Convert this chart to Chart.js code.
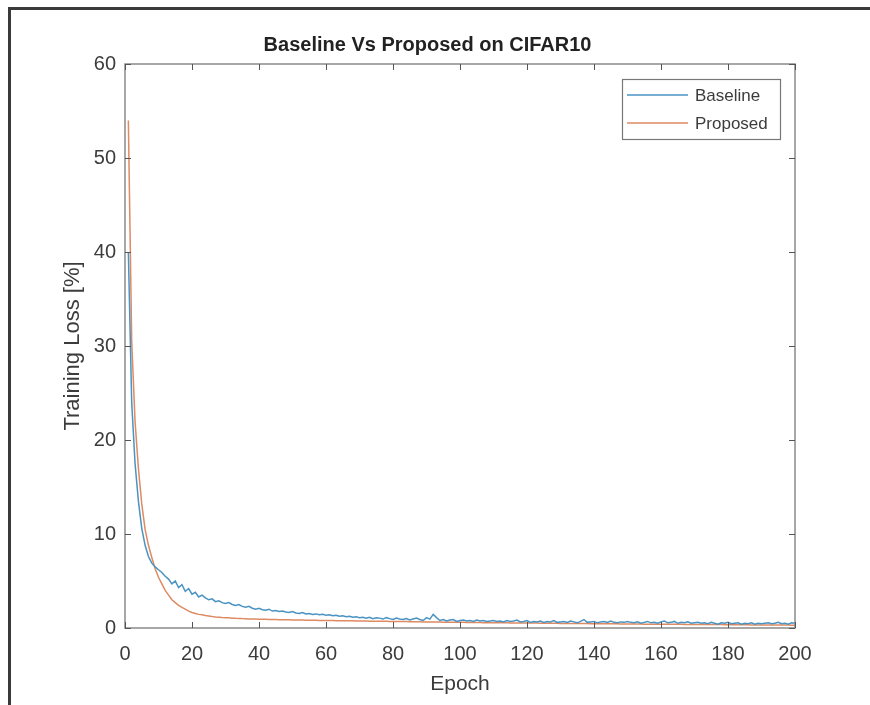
<!DOCTYPE html>
<html>
<head>
<meta charset="utf-8">
<script src="https://cdn.jsdelivr.net/npm/chart.js@4.4.1/dist/chart.umd.min.js"></script>
<style>
    html, body { margin: 0; padding: 0; background: #fff; }
    #wrap { position: relative; width: 870px; height: 705px; }
    #frame { position: absolute; left: 8px; top: 7px; right: 0; bottom: 0;
             border-top: 3px solid #3a3a3a; border-left: 3px solid #3a3a3a; pointer-events: none; }
    canvas { position: absolute; left: 0; top: 0; }
</style>
</head>
<body>
<div id="wrap">
    <canvas id="chart" width="870" height="705"></canvas>
    <div id="frame"></div>
</div>
<script>
// Data (epochs 1..200)
const xTicks = [0, 20, 40, 60, 80, 100, 120, 140, 160, 180, 200];
const yTicks = [0, 10, 20, 30, 40, 50, 60];

const baseline = [
    40.0, 24.0, 17.5, 13.5, 10.6, 8.8, 7.6, 6.9, 6.5, 6.2,
    5.9, 5.5, 5.2, 4.7, 5.0, 4.3, 4.6, 3.9, 4.2, 3.6,
    3.8, 3.3, 3.5, 3.2, 3.0, 3.1, 2.8, 2.9, 2.7, 2.6,
    2.7, 2.5, 2.4, 2.5, 2.3, 2.2, 2.3, 2.1, 2.0, 2.1,
    1.95, 1.9, 2.0, 1.8, 1.85, 1.75, 1.8, 1.7, 1.65, 1.75,
    1.6, 1.55, 1.65, 1.5, 1.55, 1.45, 1.5, 1.4, 1.45, 1.35,
    1.4, 1.3, 1.35, 1.25, 1.3, 1.2, 1.25, 1.15, 1.2, 1.1,
    1.15, 1.05, 1.15, 1.0, 1.1, 1.05, 0.95, 1.1, 1.0, 0.9,
    1.05, 0.95, 0.9, 1.0, 0.85, 0.95, 1.05, 0.9, 0.8, 1.1,
    0.95, 1.45, 1.1, 0.8, 0.9, 0.75, 0.85, 0.9, 0.7, 0.8,
    0.85, 0.75, 0.8, 0.7, 0.85, 0.75, 0.8, 0.7, 0.75, 0.8,
    0.7, 0.75, 0.65, 0.8, 0.7, 0.75, 0.85, 0.65, 0.7, 0.8,
    0.6, 0.7, 0.65, 0.75, 0.6, 0.7, 0.65, 0.8, 0.6, 0.65,
    0.7, 0.6, 0.75, 0.65, 0.55, 0.7, 0.9, 0.6, 0.65, 0.7,
    0.55, 0.65, 0.7, 0.6, 0.75, 0.6, 0.55, 0.65, 0.6, 0.7,
    0.6, 0.55, 0.65, 0.5, 0.6, 0.7, 0.55, 0.6, 0.5, 0.65,
    0.75, 0.55, 0.6, 0.7, 0.5, 0.6, 0.55, 0.65, 0.5, 0.55,
    0.6, 0.5, 0.55, 0.45, 0.6, 0.5, 0.4, 0.55, 0.5, 0.6,
    0.45, 0.5, 0.55, 0.4, 0.5, 0.45, 0.55, 0.4, 0.5, 0.45,
    0.5, 0.55, 0.45, 0.5, 0.6, 0.45, 0.5, 0.4, 0.55, 0.5
];

const proposed = [
    54.0, 30.5, 22.0, 17.0, 13.2, 10.5, 8.8, 7.5, 6.3, 5.4,
    4.7, 4.0, 3.5, 3.0, 2.7, 2.4, 2.2, 2.0, 1.8, 1.65,
    1.55, 1.45, 1.4, 1.32, 1.28, 1.22, 1.18, 1.15, 1.12, 1.1,
    1.08, 1.05, 1.03, 1.02, 1.0, 0.99, 0.97, 0.96, 0.95, 0.94,
    0.93, 0.92, 0.91, 0.9, 0.9, 0.89, 0.88, 0.87, 0.87, 0.86,
    0.85, 0.85, 0.84, 0.83, 0.83, 0.82, 0.82, 0.81, 0.8, 0.8,
    0.79, 0.79, 0.78, 0.78, 0.77, 0.77, 0.76, 0.76, 0.75, 0.75,
    0.74, 0.74, 0.73, 0.73, 0.72, 0.72, 0.71, 0.71, 0.7, 0.7,
    0.69, 0.69, 0.68, 0.68, 0.67, 0.67, 0.66, 0.66, 0.65, 0.65,
    0.64, 0.64, 0.63, 0.63, 0.62, 0.62, 0.61, 0.61, 0.6, 0.6,
    0.6, 0.59, 0.59, 0.58, 0.58, 0.58, 0.57, 0.57, 0.56, 0.56,
    0.56, 0.55, 0.55, 0.55, 0.54, 0.54, 0.54, 0.53, 0.53, 0.53,
    0.52, 0.52, 0.52, 0.51, 0.51, 0.51, 0.5, 0.5, 0.5, 0.49,
    0.49, 0.49, 0.48, 0.48, 0.48, 0.47, 0.47, 0.47, 0.46, 0.46,
    0.46, 0.45, 0.45, 0.45, 0.44, 0.44, 0.44, 0.43, 0.43, 0.43,
    0.42, 0.42, 0.42, 0.42, 0.41, 0.41, 0.41, 0.41, 0.4, 0.4,
    0.4, 0.4, 0.39, 0.39, 0.39, 0.39, 0.38, 0.38, 0.38, 0.38,
    0.37, 0.37, 0.37, 0.37, 0.36, 0.36, 0.36, 0.36, 0.35, 0.35,
    0.35, 0.35, 0.34, 0.34, 0.34, 0.34, 0.33, 0.33, 0.33, 0.33,
    0.32, 0.32, 0.32, 0.32, 0.31, 0.31, 0.31, 0.31, 0.3, 0.3
];

const FONT = "'Liberation Sans', Arial, Helvetica, sans-serif";
const TEXT = '#3c3c3c';
const AXIS = '#8a8a8a';

// value i belongs to epoch i+1
const toPoints = arr => arr.map((v, i) => ({ x: i + 1, y: v }));

// MATLAB style box with inward ticks on all four sides, and the legend
const matlabBox = {
    id: 'matlabBox',
    afterDraw(chart) {
        const { ctx, chartArea: a, scales } = chart;
        ctx.save();
        ctx.strokeStyle = AXIS;
        ctx.lineWidth = 1.5;
        ctx.strokeRect(a.left, a.top, a.right - a.left, a.bottom - a.top);
        ctx.strokeStyle = '#555';
        ctx.lineWidth = 1;
        const len = 6;
        ctx.beginPath();
        xTicks.forEach(t => {
            const px = Math.round(scales.x.getPixelForValue(t)) + 0.5;
            ctx.moveTo(px, a.bottom); ctx.lineTo(px, a.bottom - len);
            ctx.moveTo(px, a.top); ctx.lineTo(px, a.top + len);
        });
        yTicks.forEach(t => {
            const py = Math.round(scales.y.getPixelForValue(t)) + 0.5;
            ctx.moveTo(a.left, py); ctx.lineTo(a.left + len, py);
            ctx.moveTo(a.right, py); ctx.lineTo(a.right - len, py);
        });
        ctx.stroke();

        // legend box
        const lx = 622, ly = 79, lw = 158, lh = 60;
        ctx.fillStyle = '#fff';
        ctx.fillRect(lx, ly, lw, lh);
        ctx.strokeStyle = '#777';
        ctx.lineWidth = 1.2;
        ctx.strokeRect(lx + 0.5, ly + 0.5, lw, lh);
        ctx.font = '17px ' + FONT;
        ctx.textBaseline = 'middle';
        ctx.textAlign = 'left';
        chart.data.datasets.forEach((ds, i) => {
            const y = ly + 16 + i * 28;
            ctx.strokeStyle = ds.borderColor;
            ctx.lineWidth = 1.5;
            ctx.beginPath();
            ctx.moveTo(lx + 5, y); ctx.lineTo(lx + 66, y);
            ctx.stroke();
            ctx.fillStyle = TEXT;
            ctx.fillText(ds.label, lx + 73, y + 1);
        });
        ctx.restore();
    }
};

new Chart(document.getElementById('chart'), {
    type: 'line',
    data: {
        datasets: [
            {
                label: 'Baseline',
                data: toPoints(baseline),
                borderColor: '#4a93c2',
                borderWidth: 1.5,
                pointRadius: 0,
                tension: 0
            },
            {
                label: 'Proposed',
                data: toPoints(proposed),
                borderColor: '#de8a62',
                borderWidth: 1.5,
                pointRadius: 0,
                tension: 0
            }
        ]
    },
    options: {
        responsive: false,
        animation: false,
        layout: { padding: { left: 60, right: 75, top: 0, bottom: 0 } },
        plugins: {
            legend: { display: false },
            tooltip: { enabled: false },
            title: {
                display: true,
                text: 'Baseline Vs Proposed on CIFAR10',
                color: '#222',
                font: { family: FONT, size: 20, weight: 'bold' },
                padding: { top: 33, bottom: 7 }
            }
        },
        scales: {
            x: {
                type: 'linear',
                min: 0,
                max: 200,
                afterBuildTicks: s => { s.ticks = xTicks.map(v => ({ value: v })); },
                afterFit: s => { s.height = 77; },
                grid: { display: false, drawTicks: false },
                border: { display: false },
                ticks: { color: TEXT, padding: 14, font: { family: FONT, size: 20 } },
                title: {
                    display: true,
                    text: 'Epoch',
                    color: TEXT,
                    font: { family: FONT, size: 21 },
                    padding: { top: 0, bottom: 8 }
                }
            },
            y: {
                min: 0,
                max: 60,
                afterBuildTicks: s => { s.ticks = yTicks.map(v => ({ value: v })); },
                afterFit: s => { s.width = 65; },
                grid: { display: false, drawTicks: false },
                border: { display: false },
                ticks: { color: TEXT, padding: 9, font: { family: FONT, size: 20 } },
                title: {
                    display: true,
                    text: 'Training Loss [%]',
                    color: TEXT,
                    font: { family: FONT, size: 22 },
                    padding: { top: 0, bottom: 6 }
                }
            }
        }
    },
    plugins: [matlabBox]
});
</script>
</body>
</html>
